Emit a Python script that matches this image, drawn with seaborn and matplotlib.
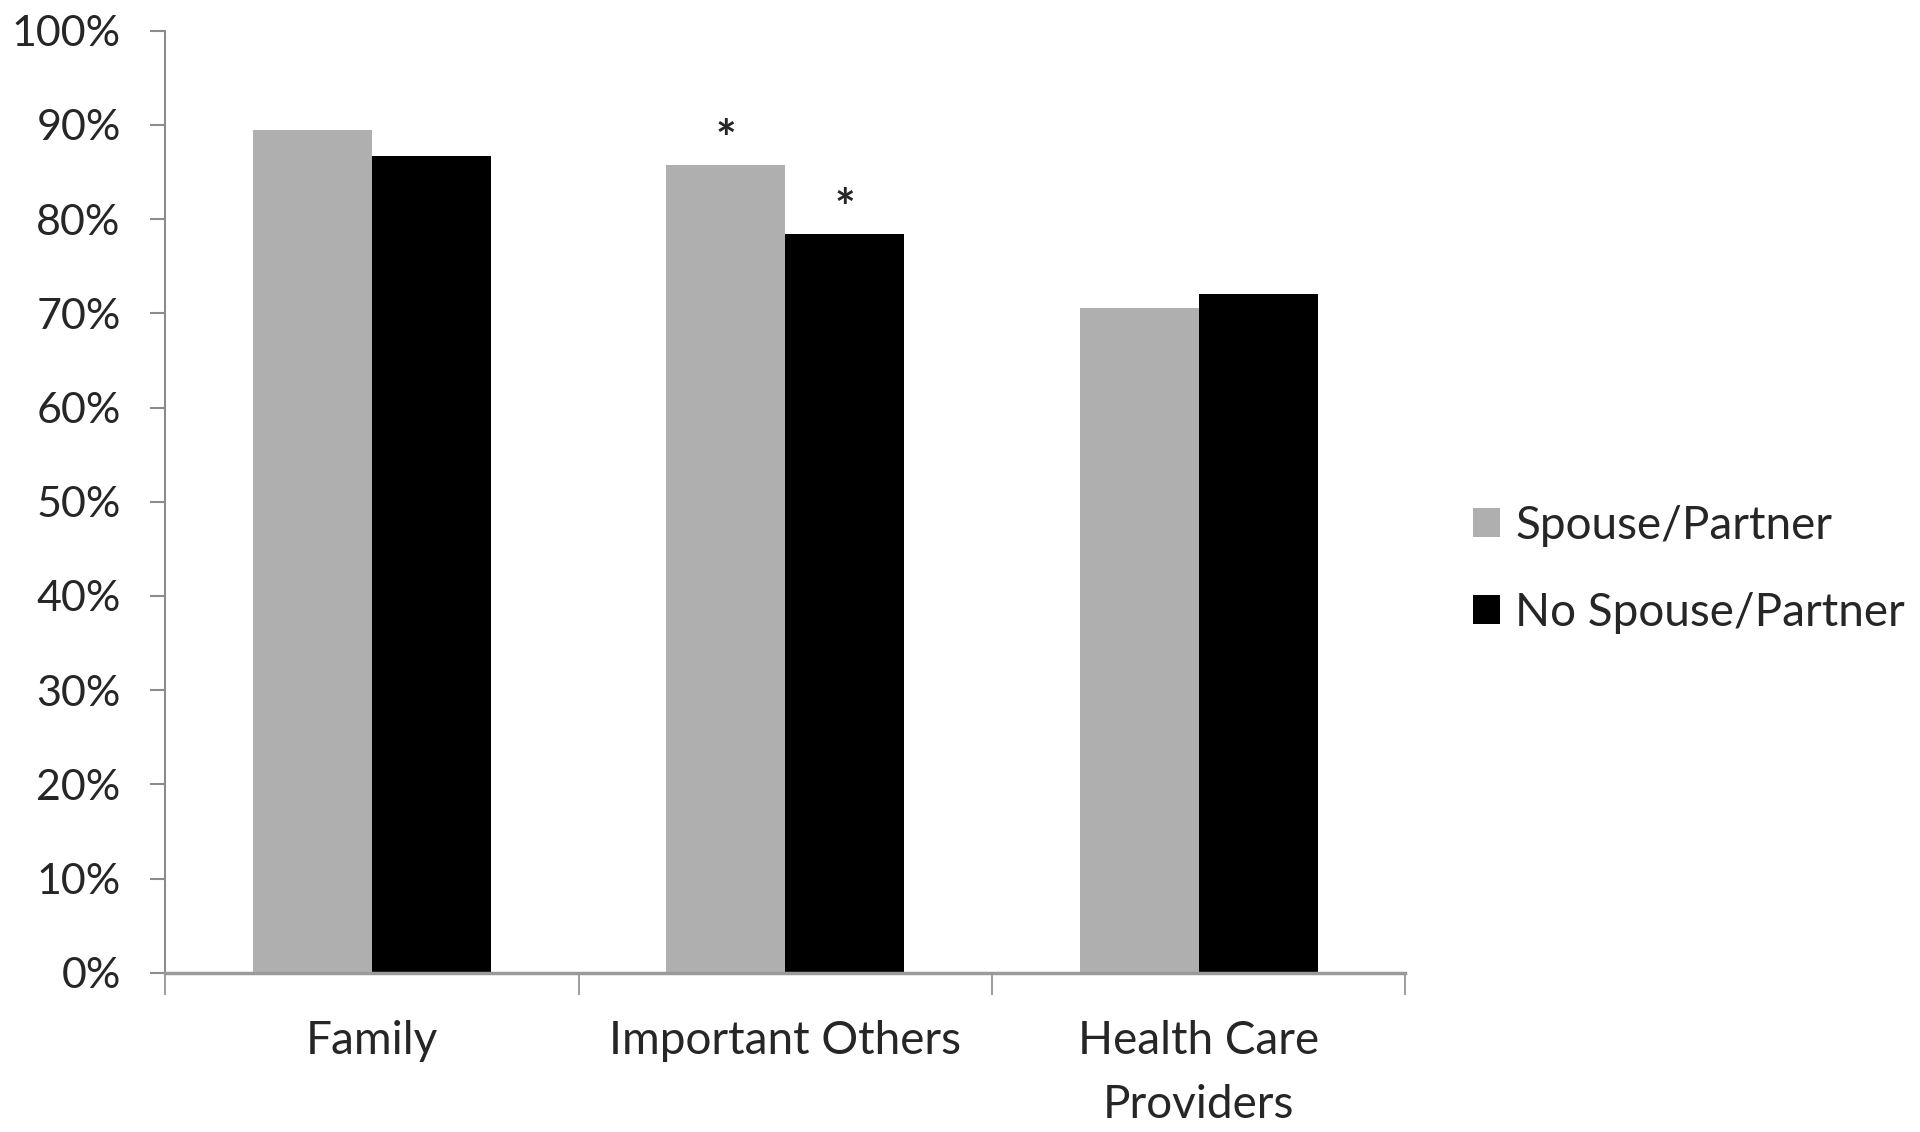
import matplotlib
matplotlib.use("Agg")
import matplotlib.pyplot as plt
import seaborn as sns
import pandas as pd
from matplotlib.patches import Patch
from matplotlib.ticker import FixedLocator, PercentFormatter

categories = ["Family", "Important Others", "Health Care\nProviders"]
series_names = ["Spouse/Partner", "No Spouse/Partner"]
spouse_values = [89.4, 85.7, 70.6]
no_spouse_values = [86.7, 78.4, 72.0]
spouse_sig = [False, True, False]
no_spouse_sig = [False, True, False]
y_ticks = [0, 10, 20, 30, 40, 50, 60, 70, 80, 90, 100]

df = pd.DataFrame({
    "category": categories * 2,
    "group": [series_names[0]] * 3 + [series_names[1]] * 3,
    "value": spouse_values + no_spouse_values,
})

sns.set_style("white")
plt.rcParams["font.family"] = ["Lato", "DejaVu Sans"]

FS = 31
FS2 = 33
colors = ["#AFAFAF", "#000000"]
fig = plt.figure(figsize=(19.2, 11.32), dpi=100)
ax = fig.add_axes([0.086, 0.1405, 0.646, 0.8325])

sns.barplot(data=df, x="category", y="value", hue="group", order=categories,
            hue_order=series_names, palette=colors, width=0.575, saturation=1,
            linewidth=0, ax=ax, legend=False)

ax.set_xlim(-0.5, 2.5)
ax.set_ylim(0, 100)
ax.set_xlabel("")
ax.set_ylabel("")

ax.yaxis.set_major_locator(FixedLocator(y_ticks))
ax.yaxis.set_major_formatter(PercentFormatter(decimals=0))
ax.tick_params(axis="y", which="major", length=11, width=1.5, color="#8c8c8c",
               direction="out", left=True, pad=21, labelsize=FS)
ax.tick_params(axis="x", which="major", length=0, pad=34, labelsize=FS2)
for lab in ax.get_xticklabels():
    lab.set_linespacing(1.65)
ax.set_xticks([-0.5, 0.5, 1.5, 2.5], minor=True)
ax.tick_params(axis="x", which="minor", length=16, width=1.2, color="#8c8c8c",
               direction="out", bottom=True)

for side in ["top", "right"]:
    ax.spines[side].set_visible(False)
ax.spines["left"].set_color("#8c8c8c")
ax.spines["left"].set_linewidth(1.5)
ax.spines["bottom"].set_color("#9a9a9a")
ax.spines["bottom"].set_linewidth(2.5)

for container, sig in zip(ax.containers, [spouse_sig, no_spouse_sig]):
    for bar, s in zip(container, sig):
        if s:
            ax.annotate("*", (bar.get_x() + bar.get_width() / 2, bar.get_height()),
                        xytext=(0, 1), textcoords="offset points",
                        ha="center", va="bottom", fontsize=FS + 4,
                        fontweight="bold")

handles = [Patch(facecolor=c, edgecolor="none") for c in colors]
fig.legend(handles, series_names, loc="center left", bbox_to_anchor=(0.767, 0.497),
           frameon=False, fontsize=FS2, handlelength=0.6, handleheight=0.6,
           handletextpad=0.33, labelspacing=0.98, borderpad=0, borderaxespad=0)

fig.savefig("out.png", dpi=100)
